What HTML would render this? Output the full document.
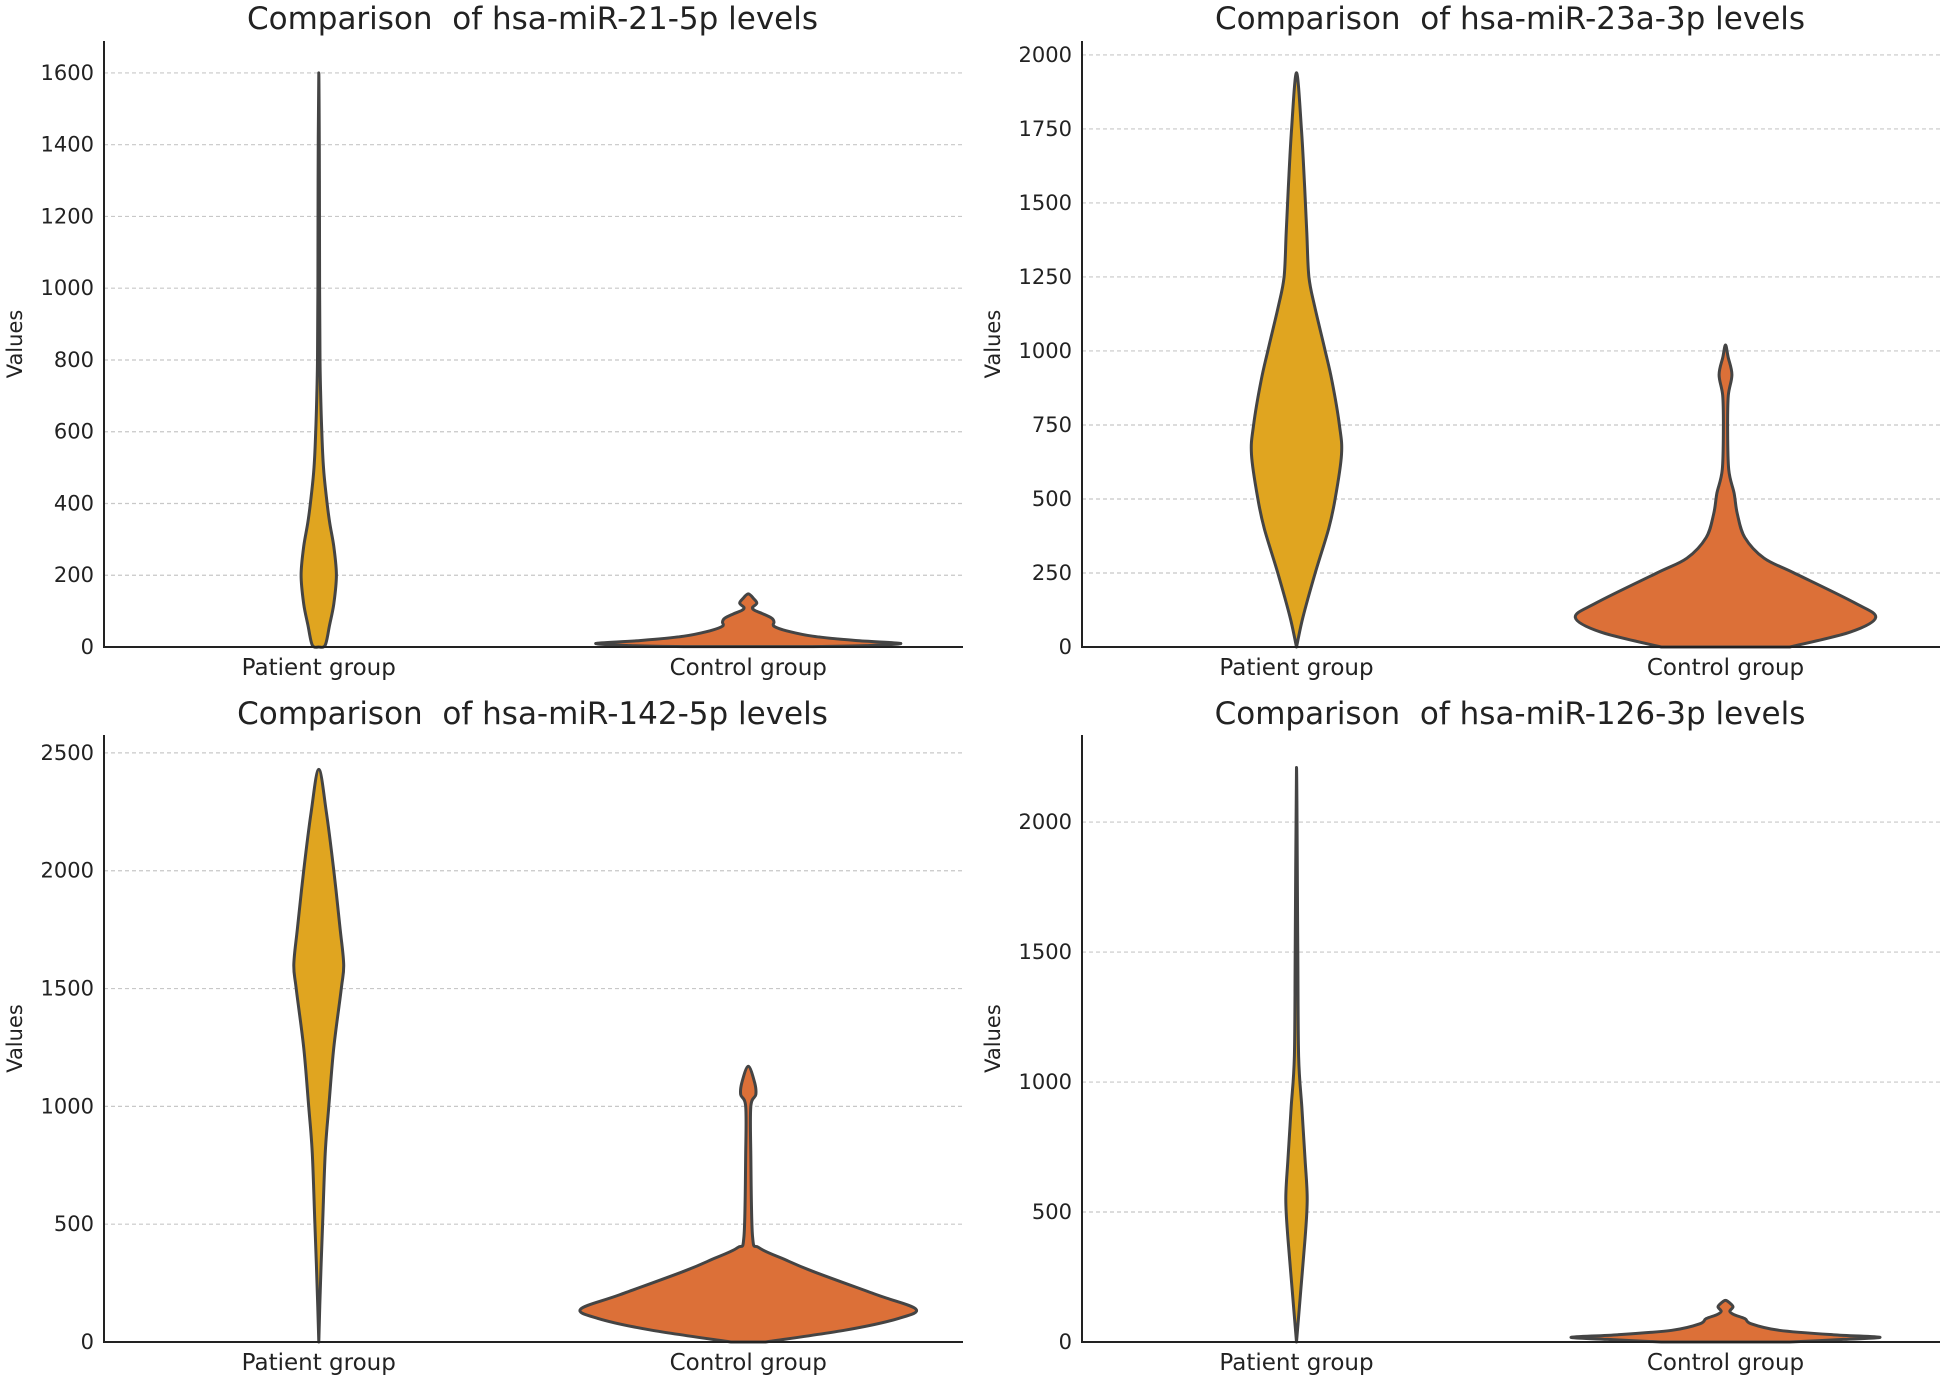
<!DOCTYPE html>
<html><head><meta charset="utf-8"><style>
html,body{margin:0;padding:0;background:#fff;}
svg{display:block;}
text{font-family:"DejaVu Sans","Liberation Sans",sans-serif;fill:#222;white-space:pre;}
</style></head><body>
<svg id="chart" width="1948" height="1377" viewBox="0 0 1948 1377"></svg>
<script>
const categories = ["Patient group", "Control group"];
const titles = ["Comparison  of hsa-miR-21-5p levels","Comparison  of hsa-miR-23a-3p levels","Comparison  of hsa-miR-142-5p levels","Comparison  of hsa-miR-126-3p levels"];
const yTicks0 = [0,200,400,600,800,1000,1200,1400,1600];
const yTicks1 = [0,250,500,750,1000,1250,1500,1750,2000];
const yTicks2 = [0,500,1000,1500,2000,2500];
const yTicks3 = [0,500,1000,1500,2000];
const yMax = [1689, 2047, 2576, 2335];
// violin profiles: [value, relative half-width]
const patient0 = [[0,0.0],[5,0.03],[60,0.05],[120,0.07],[200,0.082],[280,0.07],[350,0.05],[420,0.035],[500,0.022],[600,0.014],[700,0.009],[800,0.006],[1000,0.004],[1300,0.003],[1600,0.0]];
const control0 = [[1,0.3],[4,0.55],[10,0.71],[18,0.5],[30,0.3],[45,0.18],[58,0.12],[70,0.12],[80,0.11],[92,0.07],[102,0.03],[110,0.02],[122,0.04],[135,0.025],[148,0]];
const patient1 = [[0,0],[100,0.03],[250,0.087],[400,0.15],[500,0.18],[650,0.21],[750,0.2],[900,0.165],[1000,0.134],[1150,0.085],[1250,0.058],[1400,0.048],[1550,0.038],[1750,0.023],[1940,0]];
const control1 = [[0,0.3],[50,0.58],[100,0.7],[150,0.6],[250,0.32],[300,0.18],[370,0.09],[450,0.055],[520,0.04],[600,0.015],[750,0.01],[850,0.013],[920,0.03],[980,0.012],[1020,0]];
const patient2 = [[0,0],[250,0.008],[500,0.018],[800,0.03],[1000,0.047],[1250,0.07],[1500,0.105],[1600,0.116],[1750,0.1],[2000,0.07],[2250,0.035],[2430,0]];
const control2 = [[0,0.08],[50,0.45],[100,0.7],[140,0.78],[200,0.6],[300,0.3],[350,0.17],[400,0.05],[450,0.02],[800,0.012],[1000,0.012],[1050,0.035],[1100,0.03],[1170,0]];
const patient3 = [[0,0],[200,0.02],[400,0.04],[550,0.05],[700,0.04],[900,0.025],[1100,0.01],[1500,0.006],[2210,0]];
const control3 = [[0,0.3],[10,0.55],[18,0.72],[28,0.5],[45,0.25],[70,0.12],[90,0.09],[105,0.04],[118,0.02],[135,0.035],[150,0.02],[160,0]];

const panels = [
 {x0:104,x1:963,yb:647,yt:41,ticks:yTicks0,max:yMax[0],p:patient0,c:control0,title:titles[0],ty:19},
 {x0:1082,x1:1940,yb:647,yt:41,ticks:yTicks1,max:yMax[1],p:patient1,c:control1,title:titles[1],ty:19},
 {x0:104,x1:963,yb:1342,yt:735,ticks:yTicks2,max:yMax[2],p:patient2,c:control2,title:titles[2],ty:714},
 {x0:1082,x1:1940,yb:1342,yt:735,ticks:yTicks3,max:yMax[3],p:patient3,c:control3,title:titles[3],ty:714}
];
const NS="http://www.w3.org/2000/svg";
const svg=document.getElementById('chart');
function mk(tag,attrs,parent){const e=document.createElementNS(NS,tag);for(const k in attrs)e.setAttribute(k,attrs[k]);(parent||svg).appendChild(e);return e;}
function smooth(pts){
  let d='M'+pts[0][0].toFixed(1)+','+pts[0][1].toFixed(1);
  for(let i=0;i<pts.length-1;i++){
    const p0=pts[Math.max(0,i-1)],p1=pts[i],p2=pts[i+1],p3=pts[Math.min(pts.length-1,i+2)];
    const c1=[p1[0]+(p2[0]-p0[0])/6,p1[1]+(p2[1]-p0[1])/6];
    const c2=[p2[0]-(p3[0]-p1[0])/6,p2[1]-(p3[1]-p1[1])/6];
    d+=` C${c1[0].toFixed(1)},${c1[1].toFixed(1)} ${c2[0].toFixed(1)},${c2[1].toFixed(1)} ${p2[0].toFixed(1)},${p2[1].toFixed(1)}`;
  }
  return d;
}
const colors=["#E0A520","#DC7038"];
panels.forEach((P,i)=>{
  const g=mk('g',{});
  
  
  const yS=v=>P.yb-(v/P.max)*(P.yb-P.yt);
  const spacing=(P.x1-P.x0)/2;
  const xS=k=>P.x0+spacing*(k+0.5);
  P.ticks.forEach(t=>{
    const y=yS(t);
    if(t>0){const gl=mk('line',{x1:P.x0,x2:P.x1,y1:y,y2:y,stroke:'#c8c8c8','stroke-width':1.2,'stroke-dasharray':'4,3'},g);
    
    }
    const tx=mk('text',{x:P.x0-10,y:y+7,'text-anchor':'end','font-size':21},g);
    tx.textContent=t;
    
    
  });
  [P.p,P.c].forEach((prof,k)=>{
    const cx=xS(k);const half=spacing/2;
    let right=prof.map(d=>[cx+d[1]*half,yS(d[0])]);
    let left=prof.slice().reverse().map(d=>[cx-d[1]*half,yS(d[0])]);
    const pts=right.concat(left.slice(1));
    const v=mk('path',{d:smooth(pts)+' Z',fill:colors[k],stroke:'#444','stroke-width':3,'stroke-linejoin':'round'},g);
    
    
    const tl=mk('text',{x:cx,y:P.yb+28,'text-anchor':'middle','font-size':23},g);
    tl.textContent=categories[k];
    
    
  });
  const ax=mk('path',{d:`M${P.x0},${P.yt} L${P.x0},${P.yb} L${P.x1},${P.yb}`,fill:'none',stroke:'#222','stroke-width':2},g);
  
  
  const ti=mk('text',{x:(P.x0+P.x1)/2-1,y:P.ty+10,'text-anchor':'middle','font-size':31},g);
  ti.textContent=P.title;
  
  
  const ym=(P.yb+P.yt)/2;
  const yl=mk('text',{x:P.x0-82,y:ym,'text-anchor':'middle','font-size':21,transform:`rotate(-90 ${P.x0-82} ${ym})`},g);
  yl.textContent='Values';
  
  
});
</script>
</body></html>
